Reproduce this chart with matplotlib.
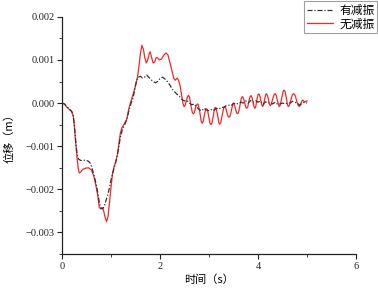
import matplotlib
matplotlib.use("Agg")
import matplotlib.pyplot as plt
from matplotlib.ticker import MultipleLocator, FuncFormatter

plt.rcParams['font.family'] = ['Liberation Serif', 'Noto Sans CJK SC', 'DejaVu Sans']

# 有减振 (damped) : time (s), displacement (x1e-3 m)
t_damped = [0.00, 0.05, 0.10, 0.15, 0.20, 0.23, 0.25, 0.27, 0.29, 0.31, 0.34, 0.38, 0.43, 0.48,
            0.54, 0.58, 0.61, 0.64, 0.68, 0.71, 0.74, 0.77, 0.80, 0.83, 0.86, 0.90, 0.93, 0.97,
            1.00, 1.04, 1.07, 1.11, 1.15, 1.19, 1.23, 1.28, 1.33, 1.37, 1.41, 1.45, 1.49, 1.52,
            1.55, 1.60, 1.64, 1.68, 1.73, 1.77, 1.81, 1.86, 1.91, 1.95, 2.00, 2.05, 2.10, 2.15,
            2.20, 2.25, 2.30, 2.35, 2.40, 2.45, 2.50, 2.55, 2.60, 2.65, 2.70, 2.75, 2.80, 2.85,
            2.90, 2.95, 3.00, 3.05, 3.10, 3.15, 3.20, 3.25, 3.30, 3.35, 3.40, 3.45, 3.50, 3.55,
            3.60, 3.65, 3.70, 3.75, 3.80, 3.85, 3.90, 3.95, 4.00, 4.05, 4.10, 4.15, 4.20, 4.25,
            4.30, 4.35, 4.40, 4.45, 4.50, 4.55, 4.60, 4.65, 4.70, 4.75, 4.80, 4.85, 4.90, 4.95, 5.00]
y_damped = [0.00, -0.02, -0.08, -0.13, -0.20, -0.30, -0.50, -0.75, -1.00, -1.20, -1.30, -1.33, -1.33, -1.32,
            -1.35, -1.40, -1.50, -1.62, -1.80, -1.95, -2.15, -2.35, -2.45, -2.45, -2.40, -2.25, -2.15, -1.95,
            -1.78, -1.60, -1.48, -1.30, -1.08, -0.80, -0.62, -0.50, -0.35, -0.15, 0.00, 0.12, 0.35, 0.52,
            0.60, 0.62, 0.58, 0.60, 0.65, 0.60, 0.55, 0.50, 0.47, 0.50, 0.57, 0.60, 0.56, 0.50,
            0.42, 0.32, 0.26, 0.20, 0.15, 0.08, 0.05, 0.06, 0.00, -0.04, -0.02, -0.10, -0.15, -0.18,
            -0.12, -0.16, -0.18, -0.15, -0.17, -0.12, -0.14, -0.10, -0.10, -0.06, -0.05, -0.06, 0.00, -0.03,
            0.00, 0.02, 0.00, 0.05, 0.00, 0.06, 0.02, 0.06, 0.02, 0.05, -0.03, 0.03, 0.00, 0.02,
            -0.02, 0.02, -0.03, -0.02, 0.00, -0.02, 0.00, 0.00, 0.04, 0.02, 0.00, -0.05, 0.00, 0.02, 0.00]

# 无减振 (undamped)
t_undamped = [0.00, 0.05, 0.10, 0.15, 0.20, 0.23, 0.25, 0.27, 0.29, 0.31, 0.33, 0.35, 0.38, 0.42,
              0.48, 0.54, 0.60, 0.65, 0.69, 0.73, 0.76, 0.79, 0.82, 0.85, 0.88, 0.91, 0.94, 0.97,
              1.00, 1.03, 1.06, 1.10, 1.13, 1.16, 1.19, 1.22, 1.27, 1.32, 1.36, 1.40, 1.45, 1.50,
              1.54, 1.57, 1.60, 1.63, 1.66, 1.69, 1.72, 1.75, 1.78, 1.80, 1.83, 1.86, 1.89, 1.92,
              1.95, 1.99, 2.03, 2.07, 2.12, 2.16, 2.20, 2.24, 2.28, 2.31, 2.35, 2.38, 2.41,
              2.45, 2.47, 2.49, 2.51, 2.54, 2.56, 2.58, 2.60, 2.63, 2.66, 2.68, 2.70, 2.73, 2.76,
              2.78, 2.81, 2.84, 2.86, 2.88, 2.91, 2.93, 2.95, 2.97, 3.00, 3.02, 3.04, 3.06, 3.09,
              3.11, 3.13, 3.15, 3.18, 3.20, 3.22, 3.24, 3.27, 3.30, 3.32, 3.34, 3.37, 3.39, 3.41,
              3.43, 3.46, 3.48, 3.50, 3.52, 3.55, 3.57, 3.59, 3.61, 3.64, 3.66, 3.68, 3.70, 3.73,
              3.75, 3.77, 3.79, 3.82, 3.84, 3.86, 3.88, 3.91, 3.93, 3.95, 3.98, 4.00, 4.02, 4.04,
              4.07, 4.09, 4.11, 4.14, 4.16, 4.18, 4.20, 4.23, 4.25, 4.27, 4.30, 4.33, 4.35, 4.37,
              4.40, 4.43, 4.45, 4.48, 4.51, 4.53, 4.55, 4.58, 4.60, 4.62, 4.64, 4.67, 4.70, 4.73,
              4.76, 4.79, 4.82, 4.84, 4.86, 4.89, 4.91, 4.93, 4.95, 4.97, 5.00]
y_undamped = [0.00, -0.02, -0.10, -0.15, -0.20, -0.30, -0.50, -0.80, -1.05, -1.30, -1.50, -1.62, -1.60, -1.54,
              -1.51, -1.50, -1.55, -1.70, -1.90, -2.15, -2.42, -2.45, -2.42, -2.50, -2.65, -2.75, -2.62, -2.30,
              -1.95, -1.65, -1.48, -1.35, -1.20, -0.95, -0.70, -0.58, -0.48, -0.38, -0.15, 0.02, 0.20, 0.40,
              0.60, 0.85, 1.15, 1.34, 1.25, 1.05, 0.93, 1.00, 1.15, 1.19, 1.05, 0.93, 0.95, 1.05,
              1.05, 1.00, 1.02, 1.10, 1.16, 1.12, 0.95, 0.76, 0.58, 0.53, 0.58, 0.52, 0.40,
              0.12, -0.02, -0.08, -0.06, 0.06, 0.15, 0.18, 0.14, -0.06, -0.22, -0.25, -0.22, -0.08, -0.02,
              -0.03, -0.20, -0.42, -0.47, -0.43, -0.25, -0.15, -0.13, -0.17, -0.35, -0.47, -0.50, -0.46, -0.28,
              -0.13, -0.10, -0.14, -0.32, -0.46, -0.49, -0.45, -0.27, -0.11, -0.08, -0.11, -0.24, -0.31, -0.33,
              -0.30, -0.15, -0.05, -0.02, -0.05, -0.18, -0.24, -0.24, -0.18, 0.00, 0.12, 0.15, 0.12, 0.00,
              -0.10, -0.12, -0.09, 0.08, 0.16, 0.17, 0.12, -0.05, -0.12, -0.10, 0.10, 0.20, 0.21, 0.15,
              -0.02, -0.08, -0.05, 0.12, 0.21, 0.21, 0.14, -0.02, -0.06, -0.03, 0.10, 0.20, 0.22, 0.18,
              0.04, -0.08, -0.06, 0.10, 0.26, 0.30, 0.27, 0.10, -0.04, -0.08, -0.05, 0.08, 0.19, 0.22,
              0.17, 0.04, -0.06, -0.08, -0.05, 0.04, 0.07, 0.05, 0.02, 0.04, 0.05]

series_labels = ['有减振', '无减振']
x_ticks = [0, 2, 4, 6]
y_ticks = [-0.003, -0.002, -0.001, 0.000, 0.001, 0.002]

fig = plt.figure(figsize=(3.78, 2.90), dpi=100)
ax = fig.add_axes([0.164, 0.124, 0.778, 0.818])

ax.plot(t_damped, [v * 1e-3 for v in y_damped], color='#333333', lw=0.9,
        linestyle=(0, (4, 1.5, 1, 1.5)), label=series_labels[0], zorder=3)
ax.plot(t_undamped, [v * 1e-3 for v in y_undamped], color='#f02828', lw=0.9,
        label=series_labels[1], zorder=2)

ax.set_xlim(0, 6)
ax.set_ylim(-0.0035, 0.002)
ax.set_xticks(x_ticks)
ax.set_yticks(y_ticks)
ax.xaxis.set_minor_locator(MultipleLocator(1))
ax.yaxis.set_minor_locator(MultipleLocator(0.0005))
ax.yaxis.set_major_formatter(FuncFormatter(lambda v, p: f"{v:.3f}".replace('-', '\u2212') if abs(v) > 1e-12 else "0.000"))

for s in ['top', 'right']:
    ax.spines[s].set_visible(False)
for s in ['left', 'bottom']:
    ax.spines[s].set_linewidth(0.9)
    ax.spines[s].set_color('#222222')

ax.tick_params(axis='both', which='major', direction='out', length=3.5, width=0.8,
               labelsize=7.5, pad=2, colors='#222222')
ax.tick_params(axis='both', which='minor', direction='out', length=2, width=0.6, colors='#222222')

ax.set_xlabel('时间（s）', family=['Noto Sans CJK SC'], fontsize=8, labelpad=3)
ax.set_ylabel('位移（m）', family=['Noto Sans CJK SC'], fontsize=8, labelpad=8)

leg = fig.legend(loc='upper right', bbox_to_anchor=(0.998, 0.995), frameon=True, fancybox=False,
                 prop={'family': ['Noto Sans CJK SC'], 'size': 8.5}, borderpad=0.2,
                 labelspacing=0.05, handlelength=2.2, handletextpad=0.6, borderaxespad=0.0)
leg.get_frame().set_edgecolor('#888888')
leg.get_frame().set_linewidth(0.8)

fig.savefig('out.png', dpi=100)
